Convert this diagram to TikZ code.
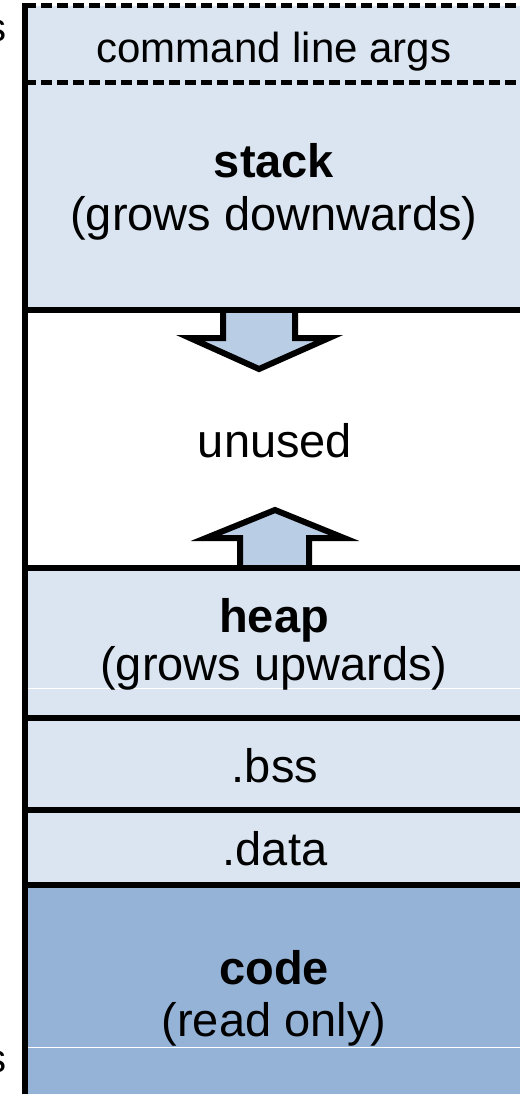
\documentclass[tikz,border=0pt]{standalone}
\usepackage{fontspec}
\setmainfont{Liberation Sans}
\definecolor{seglight}{HTML}{DBE5F1}
\definecolor{segcode}{HTML}{95B3D7}
\definecolor{arrowfill}{HTML}{B9CDE5}
\tikzset{
  border/.style={line width=6pt, black},
  dashborder/.style={line width=5pt, black, dash pattern=on 11pt off 5pt},
  lbl/.style={anchor=base, inner sep=0pt, font=\fontsize{47}{52}\selectfont},
  cutlbl/.style={anchor=base east, inner sep=0pt, font=\fontsize{40}{44}\selectfont},
  growarrow/.style={fill=arrowfill, draw=black, line width=6pt, line join=miter},
  faint/.style={white, line width=1pt},
}
\begin{document}
\begin{tikzpicture}[x=1pt,y=-1pt]
\useasboundingbox (0,0) rectangle (519,1094);
% segment fills
\fill[seglight] (25,6) rectangle (526,310);
\fill[white] (25,310) rectangle (526,568);
\fill[seglight] (25,568) rectangle (526,885);
\fill[segcode] (25,885) rectangle (526,1100);
\draw[faint] (28,688) -- (526,688);
\draw[faint] (28,1047) -- (526,1047);
% growth arrows
\draw[growarrow] (223,310) -- (223,338) -- (190,338) -- (259,369) -- (329,338) -- (295,338) -- (295,310);
\draw[growarrow] (240,568) -- (240,538) -- (206,538) -- (275,510) -- (344,538) -- (309,538) -- (309,568);
% borders
\draw[border] (25,3) -- (25,1100);
\draw[dashborder] (25,6) -- (526,6);
\draw[dashborder] (25,83) -- (526,83);
\draw[border] (22,310) -- (526,310);
\draw[border] (22,568) -- (526,568);
\draw[border] (22,718) -- (526,718);
\draw[border] (22,810) -- (526,810);
\draw[border] (22,885) -- (526,885);
% labels
\node[lbl, font=\fontsize{42}{48}\selectfont] (cmd) at (274,63) {command line args};
\node[lbl] (stack) at (274,178) {\bfseries stack};
\node[lbl] (stackg) at (274,230) {(grows downwards)};
\node[lbl] (unused) at (275,457) {unused};
\node[lbl] (heap) at (274,632) {\bfseries heap};
\node[lbl] (heapg) at (274,680) {(grows upwards)};
\node[lbl] (bss) at (275,782) {.bss};
\node[lbl] (data) at (275,865) {.data};
\node[lbl] (code) at (274,984) {\bfseries code};
\node[lbl] (codeg) at (274,1036) {(read only)};
\node[cutlbl] (hi) at (7,42) {s};
\node[cutlbl] (lo) at (7,1072) {s};
\end{tikzpicture}
\end{document}
